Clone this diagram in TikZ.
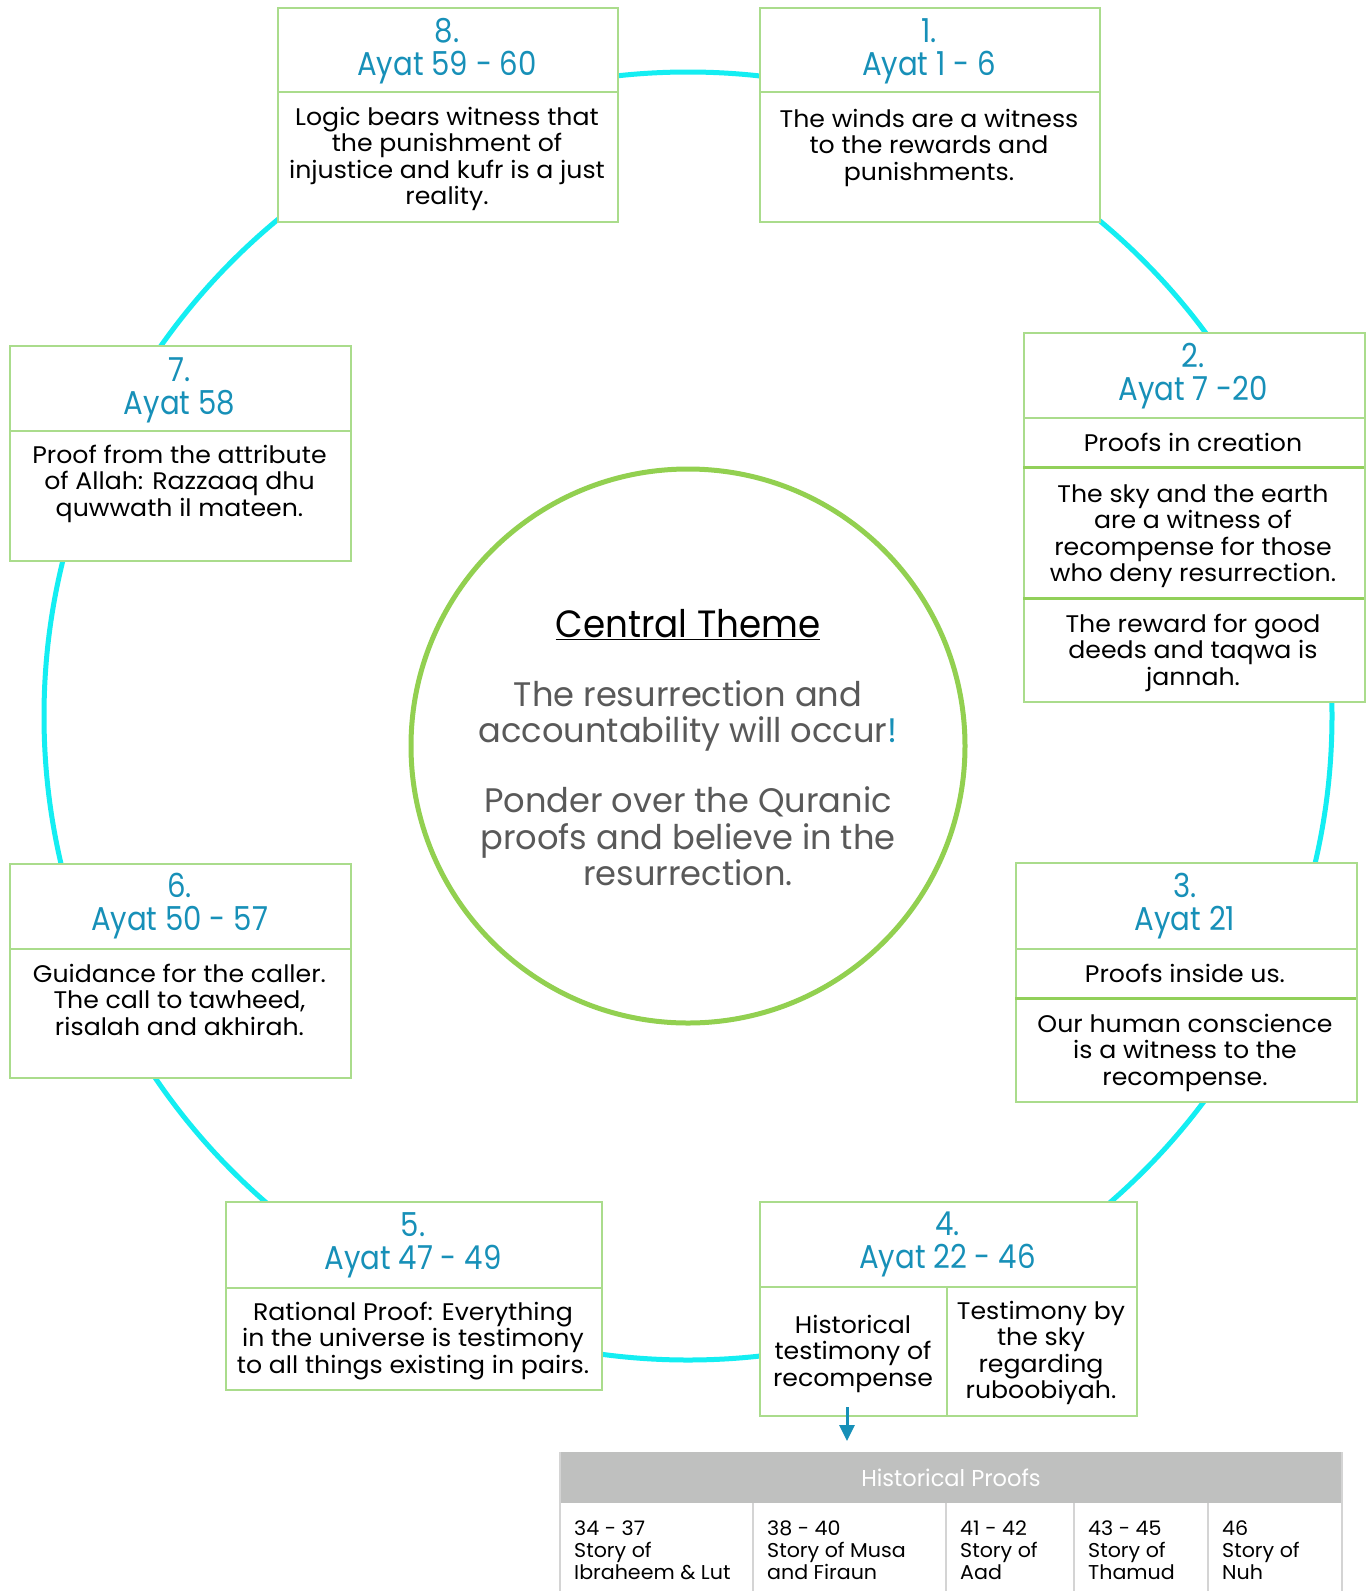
\documentclass[tikz,border=0pt]{standalone}
\usepackage{fontspec}
\setmainfont{Poppins}
\newfontfamily\hdrfont{Poppins}[FakeStretch=0.885]
\newfontfamily\bodyfont{Poppins}[FakeStretch=1.05]
\newfontfamily\titlefont{Poppins}[FakeStretch=0.94]
\newfontfamily\centrefont{Poppins}[FakeStretch=0.99]
\newfontfamily\tabfont{Poppins}[FakeStretch=1.03]
\newfontfamily\thfont{Poppins}[FakeStretch=0.98]
\usetikzlibrary{arrows.meta}
\definecolor{ayat}{RGB}{23,144,184}
\definecolor{ringc}{RGB}{20,238,242}
\definecolor{cgreen}{RGB}{146,208,80}
\definecolor{boxgreen}{RGB}{170,220,140}
\definecolor{sepgreen}{RGB}{146,208,90}
\definecolor{ctext}{RGB}{89,89,89}
\definecolor{thgray}{RGB}{191,192,191}
\definecolor{tline}{RGB}{212,212,212}
\newcommand{\mlc}[1]{\begin{tabular}[t]{@{}c@{}}#1\end{tabular}}
\newcommand{\mll}[1]{\begin{tabular}[t]{@{}l@{}}#1\end{tabular}}
\tikzset{
  frame/.style={draw=boxgreen, line width=1.5pt, fill=white, inner sep=0pt, anchor=north west},
  thin sep/.style={draw=boxgreen, line width=1.5pt},
  thick sep/.style={draw=sepgreen, line width=3pt},
  hdr/.style={text=ayat, font=\hdrfont\fontsize{33}{32}\selectfont, anchor=base, inner sep=0pt},
  bodytxt/.style={text=black, font=\bodyfont\fontsize{24}{26.5}\selectfont, anchor=base, inner sep=0pt},
  tabtxt/.style={text=black, font=\tabfont\fontsize{20}{22}\selectfont, anchor=base west, inner sep=0pt},
  arr/.style={draw=ayat, line width=3pt, -{Triangle[length=16pt,width=15pt]}}
}
\begin{document}
\begin{tikzpicture}[x=1pt,y=-1pt]
\useasboundingbox[fill=white] (0,0) rectangle (1371,1591);
% outer ring
\node[draw=ringc, line width=5pt, circle, minimum size=1288pt, inner sep=0pt] (ring) at (688,716) {};
% central circle
\node[draw=cgreen, line width=5pt, circle, fill=white, minimum size=554pt, inner sep=0pt] (centre) at (688,746) {};
\node[font=\titlefont\fontsize{38}{38}\selectfont, anchor=base, inner sep=0pt] (ctitle) at (688,637) {\underline{Central Theme}};
\node[text=ctext, font=\centrefont\fontsize{34}{34.5}\selectfont, anchor=base, inner sep=0pt] (cbody) at (688,706)
  {\mlc{The resurrection and\\accountability will occur{\color{ayat}!}\\[34.5pt]Ponder over the Quranic\\proofs and believe in the\\resurrection.}};

% Box 8
\node[frame, minimum width=340pt, minimum height=214pt] (b8) at (277,7) {};
\draw[thin sep] (277,92) -- (617,92);
\node[hdr] (b8h) at (447,42) {\mlc{8.\\Ayat 59 - 60}};
\node[bodytxt] (b8t) at (447,125) {\mlc{Logic bears witness that\\the punishment of\\injustice and kufr is a just\\reality.}};

% Box 1
\node[frame, minimum width=340pt, minimum height=214pt] (b1) at (759,7) {};
\draw[thin sep] (759,92) -- (1099,92);
\node[hdr] (b1h) at (929,42) {\mlc{1.\\Ayat 1 - 6}};
\node[bodytxt] (b1t) at (929,127) {\mlc{The winds are a witness\\to the rewards and\\punishments.}};

% Box 2
\node[frame, minimum width=341pt, minimum height=369pt] (b2) at (1023,332) {};
\draw[thin sep] (1023,418) -- (1364,418);
\draw[thick sep] (1023,467) -- (1364,467);
\draw[thick sep] (1023,598) -- (1364,598);
\node[hdr] (b2h) at (1193,367) {\mlc{2.\\Ayat 7 -20}};
\node[bodytxt] (b2a) at (1193,451) {Proofs in creation};
\node[bodytxt] (b2b) at (1193,502) {\mlc{The sky and the earth\\are a witness of\\recompense for those\\who deny resurrection.}};
\node[bodytxt] (b2c) at (1193,632) {\mlc{The reward for good\\deeds and taqwa is\\jannah.}};

% Box 7
\node[frame, minimum width=341pt, minimum height=215pt] (b7) at (9,345) {};
\draw[thin sep] (9,431) -- (350,431);
\node[hdr] (b7h) at (179.5,381) {\mlc{7.\\Ayat 58}};
\node[bodytxt] (b7t) at (179.5,463) {\mlc{Proof from the attribute\\of Allah: Razzaaq dhu\\quwwath il mateen.}};

% Box 6
\node[frame, minimum width=341pt, minimum height=214pt] (b6) at (9,863) {};
\draw[thin sep] (9,949) -- (350,949);
\node[hdr] (b6h) at (179.5,897) {\mlc{6.\\Ayat 50 - 57}};
\node[bodytxt] (b6t) at (179.5,982) {\mlc{Guidance for the caller.\\The call to tawheed,\\risalah and akhirah.}};

% Box 3
\node[frame, minimum width=341pt, minimum height=239pt] (b3) at (1015,862) {};
\draw[thin sep] (1015,949) -- (1356,949);
\draw[thick sep] (1015,998) -- (1356,998);
\node[hdr] (b3h) at (1185,897) {\mlc{3.\\Ayat 21}};
\node[bodytxt] (b3a) at (1185,982) {Proofs inside us.};
\node[bodytxt] (b3b) at (1185,1032) {\mlc{Our human conscience\\is a witness to the\\recompense.}};

% Box 5
\node[frame, minimum width=376pt, minimum height=188pt] (b5) at (225,1201) {};
\draw[thin sep] (225,1288) -- (601,1288);
\node[hdr] (b5h) at (413,1236) {\mlc{5.\\Ayat 47 - 49}};
\node[bodytxt] (b5t) at (413,1320) {\mlc{Rational Proof: Everything\\in the universe is testimony\\to all things existing in pairs.}};

% Box 4
\node[frame, minimum width=377pt, minimum height=214pt] (b4) at (759,1201) {};
\draw[thin sep] (759,1287) -- (1136,1287);
\draw[thin sep] (947,1287) -- (947,1415);
\node[hdr] (b4h) at (947.5,1235) {\mlc{4.\\Ayat 22 - 46}};
\node[bodytxt] (b4l) at (853,1333) {\mlc{Historical\\testimony of\\recompense}};
\node[bodytxt] (b4r) at (1041,1319) {\mlc{Testimony by\\the sky\\regarding\\ruboobiyah.}};

% arrow to table
\coordinate (arrS) at (847,1407);
\coordinate (arrE) at (847,1441);
\draw[arr] (arrS) -- (arrE);

% Historical proofs table
\fill[thgray] (560,1452) rectangle (1342,1503);
\draw[tline, line width=1.5pt] (560,1452) -- (560,1591);
\draw[tline, line width=1.5pt] (1342,1452) -- (1342,1591);
\foreach \cx in {753,946,1074,1208} {\draw[tline, line width=1.5pt] (\cx,1503) -- (\cx,1591);}
\node[text=white, font=\thfont\fontsize{23}{23}\selectfont, anchor=base, inner sep=0pt] (th) at (951,1486) {Historical Proofs};
\node[tabtxt] (c1) at (574,1535) {\mll{34 - 37\\Story of\\Ibraheem \& Lut}};
\node[tabtxt] (c2) at (767,1535) {\mll{38 - 40\\Story of Musa\\and Firaun}};
\node[tabtxt] (c3) at (960,1535) {\mll{41 - 42\\Story of\\Aad}};
\node[tabtxt] (c4) at (1088,1535) {\mll{43 - 45\\Story of\\Thamud}};
\node[tabtxt] (c5) at (1222,1535) {\mll{46\\Story of\\Nuh}};
\end{tikzpicture}
\end{document}
